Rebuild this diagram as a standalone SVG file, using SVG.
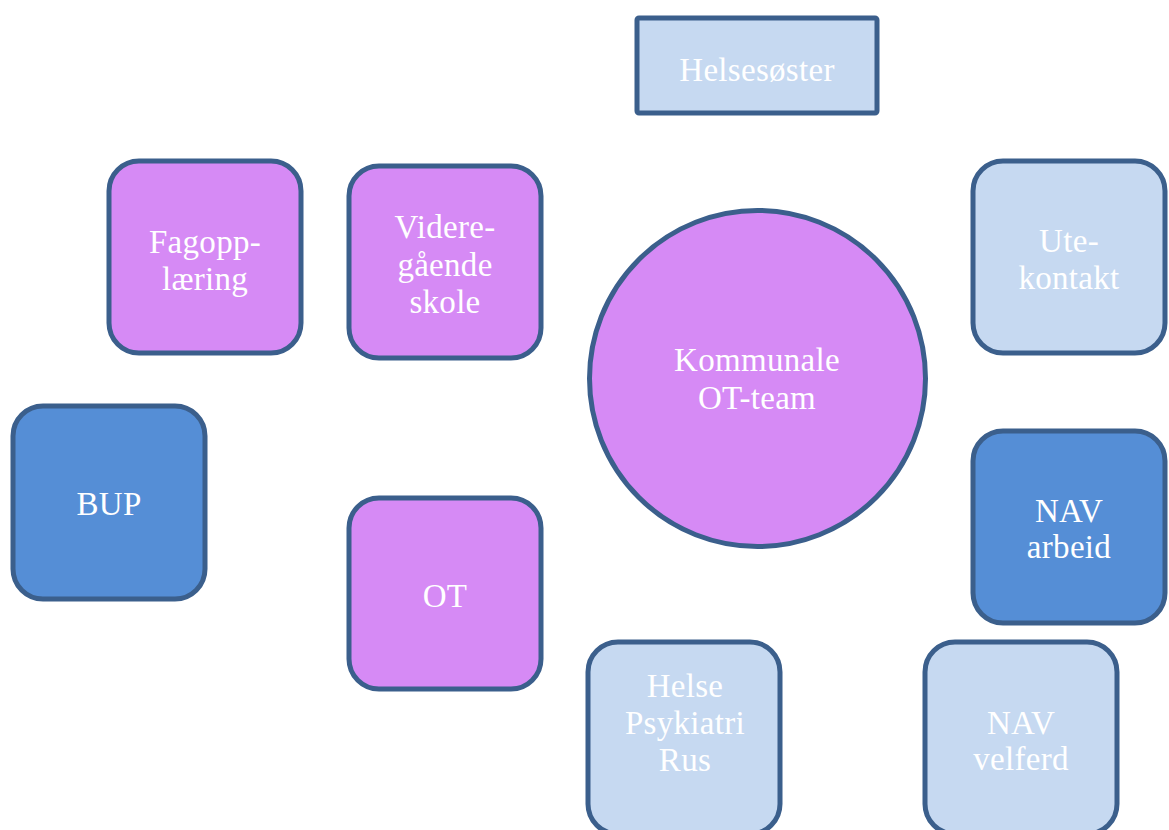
<svg xmlns="http://www.w3.org/2000/svg" width="1169" height="830" viewBox="0 0 1169 830">
<style>
.n{stroke:#3B5F8C;stroke-width:5}
.p{fill:#D68AF5}
.d{fill:#558ED6}
.l{fill:#C6D9F1}
text{font-family:"Liberation Serif","DejaVu Serif",serif;font-size:33px;fill:#FFFFFF;text-anchor:middle;letter-spacing:0.3px}
</style>
<rect width="1169" height="830" fill="#FFFFFF"/>
<g id="connectors"/>
<g id="helsesoster">
<rect class="n l" x="637" y="18" width="240" height="95" rx="2"/>
<text x="757" y="81">Helsesøster</text>
</g>
<g id="fagopplaering">
<rect class="n p" x="109" y="161" width="192" height="192" rx="30"/>
<text x="205" y="253">Fagopp-</text>
<text x="205" y="290">læring</text>
</g>
<g id="videregaende">
<rect class="n p" x="349" y="166" width="192" height="192" rx="30"/>
<text x="445" y="238">Videre-</text>
<text x="445" y="276">gående</text>
<text x="445" y="313">skole</text>
</g>
<g id="kommunale">
<circle class="n p" cx="757.5" cy="378.5" r="168"/>
<text x="757" y="371">Kommunale</text>
<text x="757" y="409">OT-team</text>
</g>
<g id="utekontakt">
<rect class="n l" x="973" y="161" width="192" height="192" rx="30"/>
<text x="1069" y="252">Ute-</text>
<text x="1069" y="289">kontakt</text>
</g>
<g id="bup">
<rect class="n d" x="13" y="406" width="192" height="193" rx="30"/>
<text x="109" y="515">BUP</text>
</g>
<g id="navarbeid">
<rect class="n d" x="973" y="431" width="192" height="192" rx="30"/>
<text x="1069" y="522">NAV</text>
<text x="1069" y="558">arbeid</text>
</g>
<g id="ot">
<rect class="n p" x="349" y="498" width="192" height="191" rx="30"/>
<text x="445" y="607">OT</text>
</g>
<g id="helse">
<rect class="n l" x="588" y="642" width="192" height="192" rx="30"/>
<text x="685" y="697">Helse</text>
<text x="685" y="734">Psykiatri</text>
<text x="685" y="771">Rus</text>
</g>
<g id="navvelferd">
<rect class="n l" x="925" y="642" width="192" height="192" rx="30"/>
<text x="1021" y="734">NAV</text>
<text x="1021" y="770">velferd</text>
</g>
</svg>
